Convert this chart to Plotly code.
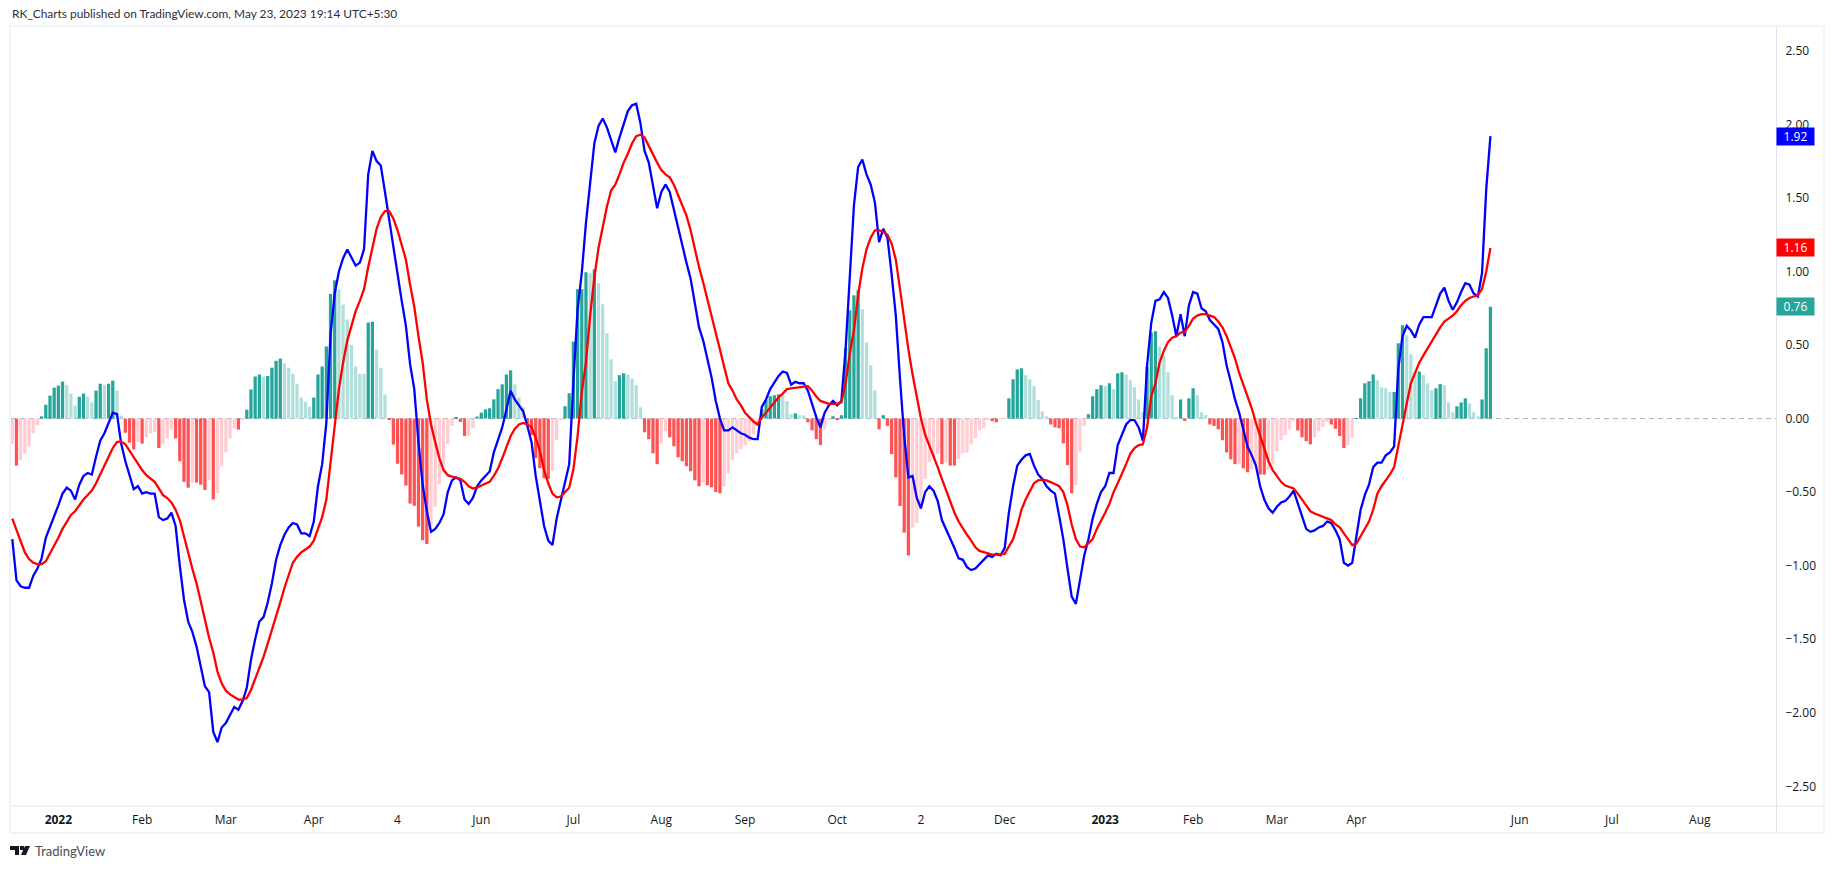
"""MACD style panel, daily bars, Jan 2022 to May 2023"""

import plotly.graph_objects as go

# histogram, one value per bar
hist = [
    -0.17, -0.32, -0.28, -0.24, -0.19, -0.10, -0.045, 0.015, 0.094, 0.156, 0.21, 0.224, 0.252, 0.23, 0.17, 0.088,
    0.148, 0.17, 0.148, 0.11, 0.19, 0.237, 0.23, 0.237, 0.258, 0.19, 0.02, -0.096, -0.164, -0.21, -0.16, -0.17,
    -0.13, -0.10, -0.09, -0.20, -0.175, -0.135, -0.075, -0.135, -0.29, -0.43, -0.47, -0.435, -0.435, -0.45, -0.485, -0.42,
    -0.55, -0.505, -0.325, -0.23, -0.135, -0.068, -0.075, -0.005, 0.06, 0.198, 0.286, 0.30, 0.286, 0.29, 0.346, 0.393,
    0.408, 0.375, 0.346, 0.304, 0.237, 0.143, 0.114, 0.08, 0.143, 0.30, 0.354, 0.49, 0.848, 0.94, 0.877, 0.775,
    0.674, 0.50, 0.354, 0.304, 0.303, 0.653, 0.658, 0.468, 0.346, 0.164, -0.008, -0.177, -0.307, -0.38, -0.455, -0.578,
    -0.593, -0.734, -0.827, -0.853, -0.728, -0.60, -0.447, -0.317, -0.175, -0.05, 0.005, -0.023, -0.118, -0.117, -0.066, 0.014,
    0.04, 0.063, 0.07, 0.131, 0.20, 0.233, 0.30, 0.328, 0.233, 0.145, 0.077, -0.05, -0.113, -0.27, -0.337, -0.405,
    -0.41, -0.358, -0.147, -0.007, 0.084, 0.172, 0.523, 0.879, 0.88, 0.995, 0.988, 1.015, 0.92, 0.777, 0.58, 0.403,
    0.254, 0.295, 0.308, 0.30, 0.274, 0.227, 0.077, -0.093, -0.14, -0.236, -0.31, -0.168, -0.086, -0.127, -0.188, -0.263,
    -0.29, -0.324, -0.358, -0.42, -0.46, -0.433, -0.453, -0.467, -0.50, -0.508, -0.46, -0.372, -0.283, -0.236, -0.208, -0.18,
    -0.154, -0.107, -0.039, 0.063, 0.125, 0.152, 0.159, 0.165, 0.159, 0.118, 0.03, 0.036, 0.023, 0.022, -0.025, -0.08,
    -0.14, -0.18, -0.073, -0.011, 0.016, -0.011, 0.023, 0.478, 0.736, 0.838, 0.872, 0.743, 0.519, 0.363, 0.193, -0.073,
    0.023, -0.05, -0.242, -0.40, -0.594, -0.775, -0.93, -0.74, -0.71, -0.62, -0.41, -0.295, -0.265, -0.24, -0.31, -0.30,
    -0.32, -0.32, -0.276, -0.236, -0.23, -0.175, -0.134, -0.08, -0.066, -0.003, -0.018, -0.025, -0.002, -0.001, 0.138, 0.267,
    0.335, 0.342, 0.295, 0.267, 0.22, 0.125, 0.05, 0.016, -0.04, -0.06, -0.066, -0.168, -0.317, -0.508, -0.453, -0.23,
    -0.052, 0.03, 0.152, 0.20, 0.227, 0.22, 0.24, 0.20, 0.308, 0.315, 0.30, 0.26, 0.213, 0.13, 0.043, 0.35,
    0.585, 0.594, 0.49, 0.43, 0.315, 0.16, 0.01, 0.13, -0.016, 0.138, 0.206, 0.16, 0.043, 0.023, -0.04, -0.05,
    -0.073, -0.147, -0.23, -0.277, -0.31, -0.309, -0.338, -0.365, -0.345, -0.32, -0.38, -0.381, -0.35, -0.31, -0.222, -0.147,
    -0.113, -0.073, -0.018, -0.08, -0.127, -0.154, -0.175, -0.127, -0.086, -0.057, -0.023, -0.04, -0.07, -0.118, -0.20, -0.18,
    -0.127, 0.003, 0.138, 0.24, 0.254, 0.30, 0.26, 0.213, 0.206, 0.18, 0.181, 0.512, 0.635, 0.567, 0.438, 0.315,
    0.32, 0.295, 0.24, 0.193, 0.206, 0.234, 0.227, 0.11, 0.043, 0.084, 0.11, 0.138, 0.104, 0.043, 0.016, 0.13,
    0.478, 0.76,
]

# fast line, one value per bar
macd_line = [
    -0.82, -1.10, -1.14, -1.15, -1.15, -1.07, -1.02, -0.95, -0.81, -0.74, -0.67, -0.59, -0.51, -0.47, -0.49, -0.55,
    -0.45, -0.39, -0.37, -0.38, -0.26, -0.15, -0.10, -0.03, 0.04, 0.03, -0.17, -0.29, -0.38, -0.48, -0.46, -0.51,
    -0.50, -0.51, -0.51, -0.67, -0.69, -0.68, -0.64, -0.73, -1.00, -1.23, -1.38, -1.45, -1.55, -1.68, -1.82, -1.86,
    -2.13, -2.20, -2.10, -2.07, -2.01, -1.96, -1.98, -1.92, -1.83, -1.64, -1.50, -1.38, -1.35, -1.25, -1.12, -0.96,
    -0.86, -0.79, -0.74, -0.71, -0.72, -0.78, -0.78, -0.80, -0.70, -0.46, -0.31, -0.03, 0.57, 0.85, 1.00, 1.09,
    1.15, 1.10, 1.04, 1.06, 1.15, 1.66, 1.82, 1.75, 1.72, 1.54, 1.35, 1.17, 0.97, 0.80, 0.63, 0.37,
    0.20, -0.16, -0.45, -0.63, -0.77, -0.75, -0.71, -0.65, -0.50, -0.42, -0.40, -0.42, -0.55, -0.58, -0.54, -0.46,
    -0.42, -0.39, -0.36, -0.23, -0.15, -0.06, 0.06, 0.19, 0.13, 0.09, 0.05, -0.05, -0.16, -0.39, -0.55, -0.73,
    -0.83, -0.86, -0.68, -0.55, -0.43, -0.31, 0.25, 0.74, 0.99, 1.33, 1.60, 1.87, 1.99, 2.04, 1.98, 1.90,
    1.81, 1.91, 2.00, 2.09, 2.13, 2.14, 2.01, 1.82, 1.74, 1.58, 1.43, 1.54, 1.59, 1.54, 1.42, 1.28,
    1.17, 1.06, 0.95, 0.79, 0.62, 0.53, 0.40, 0.28, 0.12, 0.00, -0.08, -0.08, -0.06, -0.08, -0.10, -0.11,
    -0.13, -0.14, -0.14, 0.08, 0.13, 0.20, 0.25, 0.29, 0.32, 0.31, 0.23, 0.25, 0.24, 0.24, 0.19, 0.10,
    0.01, -0.06, 0.04, 0.09, 0.12, 0.09, 0.12, 0.47, 0.93, 1.45, 1.71, 1.76, 1.66, 1.59, 1.47, 1.20,
    1.29, 1.23, 0.98, 0.70, 0.27, -0.12, -0.40, -0.39, -0.54, -0.61, -0.50, -0.46, -0.49, -0.56, -0.69, -0.75,
    -0.82, -0.88, -0.95, -0.96, -1.01, -1.03, -1.02, -0.99, -0.96, -0.93, -0.94, -0.92, -0.93, -0.88, -0.64, -0.46,
    -0.32, -0.28, -0.25, -0.24, -0.32, -0.38, -0.41, -0.46, -0.49, -0.51, -0.66, -0.82, -1.02, -1.21, -1.26, -1.10,
    -0.93, -0.82, -0.68, -0.58, -0.50, -0.46, -0.37, -0.37, -0.18, -0.11, -0.04, -0.01, -0.01, -0.06, -0.15, 0.36,
    0.65, 0.80, 0.81, 0.86, 0.82, 0.70, 0.56, 0.71, 0.56, 0.77, 0.86, 0.85, 0.75, 0.73, 0.67, 0.64,
    0.61, 0.52, 0.36, 0.25, 0.13, 0.04, -0.07, -0.19, -0.25, -0.32, -0.46, -0.55, -0.61, -0.64, -0.60, -0.57,
    -0.56, -0.53, -0.49, -0.58, -0.67, -0.75, -0.77, -0.76, -0.74, -0.73, -0.70, -0.71, -0.76, -0.82, -0.98, -1.00,
    -0.98, -0.80, -0.62, -0.52, -0.45, -0.33, -0.30, -0.30, -0.25, -0.23, -0.19, 0.34, 0.56, 0.63, 0.60, 0.55,
    0.64, 0.69, 0.69, 0.69, 0.77, 0.85, 0.89, 0.80, 0.74, 0.79, 0.86, 0.92, 0.91, 0.85, 0.83, 0.99,
    1.56, 1.92,
]

# slow line, one value per bar
signal_line = [
    -0.68, -0.76, -0.84, -0.91, -0.955, -0.98, -0.99, -0.99, -0.97, -0.92, -0.86, -0.81, -0.75, -0.70, -0.655, -0.63,
    -0.59, -0.55, -0.52, -0.49, -0.44, -0.38, -0.32, -0.265, -0.20, -0.16, -0.155, -0.175, -0.22, -0.265, -0.31, -0.35,
    -0.385, -0.41, -0.43, -0.475, -0.52, -0.54, -0.57, -0.62, -0.69, -0.80, -0.92, -1.02, -1.12, -1.25, -1.38, -1.49,
    -1.59, -1.72, -1.80, -1.85, -1.875, -1.895, -1.91, -1.91, -1.90, -1.845, -1.77, -1.70, -1.62, -1.53, -1.44, -1.345,
    -1.25, -1.15, -1.06, -0.98, -0.94, -0.91, -0.89, -0.87, -0.83, -0.75, -0.67, -0.55, -0.30, -0.01, 0.20, 0.38,
    0.53, 0.63, 0.73, 0.80, 0.88, 1.03, 1.17, 1.29, 1.37, 1.41, 1.41, 1.36, 1.28, 1.18, 1.08, 0.91,
    0.76, 0.56, 0.38, 0.13, -0.04, -0.16, -0.27, -0.35, -0.385, -0.395, -0.40, -0.41, -0.43, -0.46, -0.475, -0.47,
    -0.455, -0.445, -0.43, -0.39, -0.34, -0.27, -0.19, -0.12, -0.07, -0.04, -0.03, -0.04, -0.06, -0.13, -0.22, -0.35,
    -0.44, -0.51, -0.535, -0.53, -0.50, -0.47, -0.345, -0.12, 0.18, 0.38, 0.70, 0.96, 1.16, 1.30, 1.44, 1.55,
    1.59, 1.66, 1.74, 1.80, 1.87, 1.92, 1.93, 1.91, 1.85, 1.80, 1.74, 1.69, 1.66, 1.64, 1.59, 1.52,
    1.45, 1.38, 1.28, 1.15, 1.03, 0.925, 0.81, 0.70, 0.57, 0.45, 0.35, 0.24, 0.19, 0.13, 0.09, 0.04,
    0.01, -0.02, -0.04, 0.01, 0.04, 0.075, 0.11, 0.145, 0.17, 0.20, 0.205, 0.21, 0.215, 0.22, 0.22, 0.19,
    0.15, 0.12, 0.11, 0.10, 0.10, 0.10, 0.11, 0.24, 0.44, 0.60, 0.84, 1.02, 1.15, 1.23, 1.28, 1.28,
    1.27, 1.25, 1.19, 1.08, 0.88, 0.66, 0.47, 0.30, 0.16, 0.00, -0.11, -0.18, -0.25, -0.33, -0.41, -0.49,
    -0.57, -0.64, -0.70, -0.75, -0.79, -0.83, -0.875, -0.90, -0.91, -0.92, -0.925, -0.925, -0.925, -0.92, -0.87, -0.82,
    -0.73, -0.62, -0.55, -0.49, -0.44, -0.42, -0.415, -0.42, -0.43, -0.445, -0.46, -0.50, -0.59, -0.72, -0.82, -0.87,
    -0.875, -0.85, -0.82, -0.75, -0.70, -0.64, -0.58, -0.50, -0.44, -0.38, -0.31, -0.24, -0.20, -0.18, -0.175, -0.06,
    0.15, 0.24, 0.38, 0.46, 0.52, 0.55, 0.56, 0.585, 0.59, 0.63, 0.68, 0.70, 0.71, 0.71, 0.70, 0.69,
    0.66, 0.62, 0.56, 0.49, 0.41, 0.31, 0.23, 0.16, 0.07, -0.03, -0.12, -0.21, -0.29, -0.35, -0.39, -0.43,
    -0.455, -0.465, -0.475, -0.51, -0.55, -0.59, -0.63, -0.645, -0.655, -0.665, -0.675, -0.69, -0.72, -0.74, -0.78, -0.82,
    -0.86, -0.85, -0.80, -0.76, -0.70, -0.62, -0.51, -0.46, -0.42, -0.38, -0.33, -0.18, -0.03, 0.10, 0.24, 0.31,
    0.38, 0.43, 0.48, 0.52, 0.57, 0.62, 0.66, 0.68, 0.70, 0.73, 0.77, 0.80, 0.82, 0.83, 0.84, 0.88,
    1.00, 1.16,
]

# time axis, position given as bar number (also past the last bar)
time_ticks = [11, 31, 51, 72, 92, 112, 134, 155, 175, 197, 217, 237, 261, 282, 302, 321, 360, 382, 403]
time_labels = ["<b>2022</b>", "Feb", "Mar", "Apr", "4", "Jun", "Jul", "Aug", "Sep", "Oct", "2", "Dec",
               "<b>2023</b>", "Feb", "Mar", "Apr", "Jun", "Jul", "Aug"]

price_ticks = [2.5, 2.0, 1.5, 1.0, 0.5, 0.0, -0.5, -1.0, -1.5, -2.0, -2.5]
price_labels = ["2.50", "2.00", "1.50", "1.00", "0.50", "0.00", "−0.50", "−1.00", "−1.50", "−2.00", "−2.50"]

W, H = 1834, 869
L, R, T, B = 11, 1776, 27, 805  # plot area in pixels
FONT = "Open Sans"
NOTE_FONT = "Lato"
TEXT = "#131722"
BORDER = "#f0f3fa"
AXIS_LINE = "#e0e3eb"


def px(x):
    return (x - L) / (R - L)


def py(y):
    return 1 - (y - T) / (B - T)


def hist_colour(i):
    rising = i == 0 or hist[i] > hist[i - 1]
    if hist[i] >= 0:
        return "#26a69a" if rising else "#b2dfdb"
    return "#ffcdd2" if rising else "#ff5252"


bars = list(range(len(hist)))

fig = go.Figure()
fig.add_trace(go.Bar(x=bars, y=hist, width=0.78, marker_color=[hist_colour(i) for i in bars], marker_line_width=0))
fig.add_trace(go.Scatter(x=bars, y=macd_line, mode="lines", line=dict(color="#0000ff", width=2.3)))
fig.add_trace(go.Scatter(x=bars, y=signal_line, mode="lines", line=dict(color="#ff0000", width=2.3)))

fig.update_layout(
    width=W, height=H, autosize=False, showlegend=False, hovermode=False,
    paper_bgcolor="white", plot_bgcolor="white",
    margin=dict(l=L, r=W - R, t=T, b=H - B, pad=0),
    font=dict(family=FONT, size=12, color=TEXT),
)
fig.update_xaxes(
    range=[-0.31, 421.2], tickmode="array", tickvals=time_ticks, ticktext=time_labels,
    showgrid=False, zeroline=False, showline=False, ticks="outside", ticklen=4, tickcolor="rgba(0,0,0,0)",
    tickfont=dict(family=FONT, size=12, color=TEXT),
)
fig.update_yaxes(
    range=[-2.627, 2.662], side="right", tickmode="array", tickvals=price_ticks, ticktext=price_labels,
    showgrid=False, zeroline=False, showline=False, ticks="outside", ticklen=6, tickcolor="rgba(0,0,0,0)",
    tickfont=dict(family=FONT, size=12, color=TEXT),
)

# zero line
fig.add_shape(type="line", xref="paper", yref="y", x0=0, x1=1, y0=0, y1=0, layer="below",
              line=dict(color="rgba(120,123,134,0.6)", width=1, dash="5px,4px"))


def frame_line(x0, y0, x1, y1, colour, width):
    fig.add_shape(type="line", xref="paper", yref="paper", x0=px(x0), x1=px(x1), y0=py(y0), y1=py(y1),
                  line=dict(color=colour, width=width))


# outer frame and axis borders
frame_line(10, 26, 1824, 26, BORDER, 2)
frame_line(10, 833, 1824, 833, BORDER, 2)
frame_line(10, 26, 10, 833, BORDER, 2)
frame_line(1824, 26, 1824, 833, BORDER, 2)
frame_line(11, 806, 1823, 806, AXIS_LINE, 1)
frame_line(1776.5, 27, 1776.5, 832, AXIS_LINE, 1)

# last value labels
for value, colour in [(macd_line[-1], "#0000ff"), (signal_line[-1], "#ff0000"), (hist[-1], "#26a69a")]:
    fig.add_annotation(xref="paper", yref="y", x=1, y=value, xanchor="left", yanchor="middle",
                       text=f"{value:.2f}", showarrow=False, width=37, height=17, bgcolor=colour,
                       align="center", borderpad=0, font=dict(family=FONT, size=12, color="white"))

# header and footer
fig.add_annotation(xref="paper", yref="paper", x=px(10), y=py(14), xanchor="left", yanchor="middle",
                   text="RK_Charts published on TradingView.com, May 23, 2023 19:14 UTC+5:30",
                   showarrow=False, font=dict(family=NOTE_FONT, size=11.9, color="#2a2e39"))
fig.add_annotation(xref="paper", yref="paper", x=px(33), y=py(851), xanchor="left", yanchor="middle",
                   text="TradingView", showarrow=False, font=dict(family=NOTE_FONT, size=13, color="#4a4e59"))


def logo_path(points):
    return "M " + " L ".join(f"{px(x):.5f},{py(y):.5f}" for x, y in points) + " Z"


logo_parts = [
    [(10, 846), (19, 846), (19, 855), (15, 855), (15, 850), (10, 850)],
    [(20, 846), (24, 846), (24, 850), (20, 850)],
    [(25, 846), (30, 846), (26, 855), (21, 855)],
]
for part in logo_parts:
    fig.add_shape(type="path", xref="paper", yref="paper", path=logo_path(part),
                  fillcolor="#131722", line=dict(width=0))

fig.write_html("out.html", config=dict(displayModeBar=False),
               post_script="document.body.style.margin='0';document.body.style.overflow='hidden';")
